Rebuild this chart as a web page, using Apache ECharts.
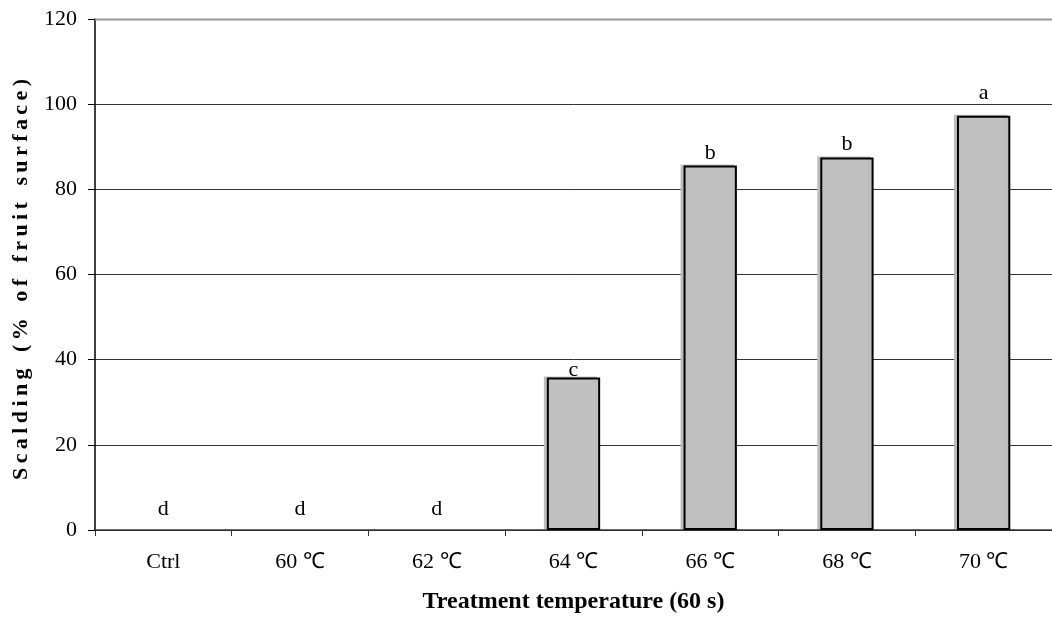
<!DOCTYPE html>
<html><head><meta charset="utf-8">
<script src="https://cdn.jsdelivr.net/npm/echarts@6/dist/echarts.min.js"></script>
<style>html,body{margin:0;padding:0;background:#fff}#c{width:1052px;height:622px}</style>
</head><body><div id="c"></div>
<script>
const categories = ['Ctrl', '60 \u2103', '62 \u2103', '64 \u2103', '66 \u2103', '68 \u2103', '70 \u2103'];
const scalding = [0, 0, 0, 35.8, 85.6, 87.5, 97.3];
const letters = ['d', 'd', 'd', 'c', 'b', 'b', 'a'];
const yTicks = [0, 20, 40, 60, 80, 100, 120];
const xTitle = 'Treatment temperature (60 s)';
const yTitle = 'Scalding (% of fruit surface)';
// gap between each bar top and its significance letter (as placed in the original figure)
const letterGaps = [10, 10, 10, -4, 1, 2, 11];

function spread(s, gap, wordGap) {
  return s.split(' ').map(w => w.split('').join(gap)).join(wordGap);
}

const FONT = 'Liberation Serif';
const chart = echarts.init(document.getElementById('c'), null, {renderer: 'canvas'});
chart.setOption({
  animation: false,
  backgroundColor: '#fff',
  grid: {left: 95, right: -9, top: 19, bottom: 92, containLabel: false},
  xAxis: {
    type: 'category',
    data: categories,
    axisLine: {lineStyle: {color: '#333', width: 1.5}},
    axisTick: {show: true, length: 6, lineStyle: {color: '#333'}},
    axisLabel: {color: '#000', fontFamily: FONT, fontSize: 22, margin: 21},
    name: xTitle,
    nameLocation: 'middle',
    nameGap: 60,
    nameTextStyle: {color: '#000', fontFamily: FONT, fontSize: 24, fontWeight: 'bold'}
  },
  yAxis: {
    type: 'value',
    min: yTicks[0], max: yTicks[yTicks.length - 1], interval: 20,
    axisLine: {show: true, lineStyle: {color: '#000', width: 1.5}},
    axisTick: {show: true, length: 7, lineStyle: {color: '#000'}},
    axisLabel: {color: '#000', fontFamily: FONT, fontSize: 22, margin: 18},
    splitLine: {show: true, lineStyle: {color: '#333', width: 1}},
    name: spread(yTitle, '\u2009', '   '),
    nameLocation: 'middle',
    nameGap: 63,
    nameTextStyle: {color: '#000', fontFamily: FONT, fontSize: 22, fontWeight: 'bold', padding: [0, 10, 0, 0]}
  },
  series: [{
    type: 'bar',
    barWidth: '39%',
    data: scalding.map((v, i) => ({
      value: v,
      itemStyle: {borderWidth: v === 0 ? 0 : 2},
      label: {distance: letterGaps[i]}
    })),
    itemStyle: {
      color: '#c0c0c0', borderColor: '#000', borderWidth: 2,
      shadowColor: '#bdbdbd', shadowBlur: 0, shadowOffsetX: -3, shadowOffsetY: -1
    },
    label: {
      show: true, position: 'top', color: '#000', fontFamily: FONT, fontSize: 22,
      formatter: p => letters[p.dataIndex]
    }
  }],
  graphic: [{
    type: 'line', z: 100,
    shape: {x1: 95, y1: 19.5, x2: 1052, y2: 19.5},
    style: {stroke: '#999', lineWidth: 2}
  }]
});
</script></body></html>
